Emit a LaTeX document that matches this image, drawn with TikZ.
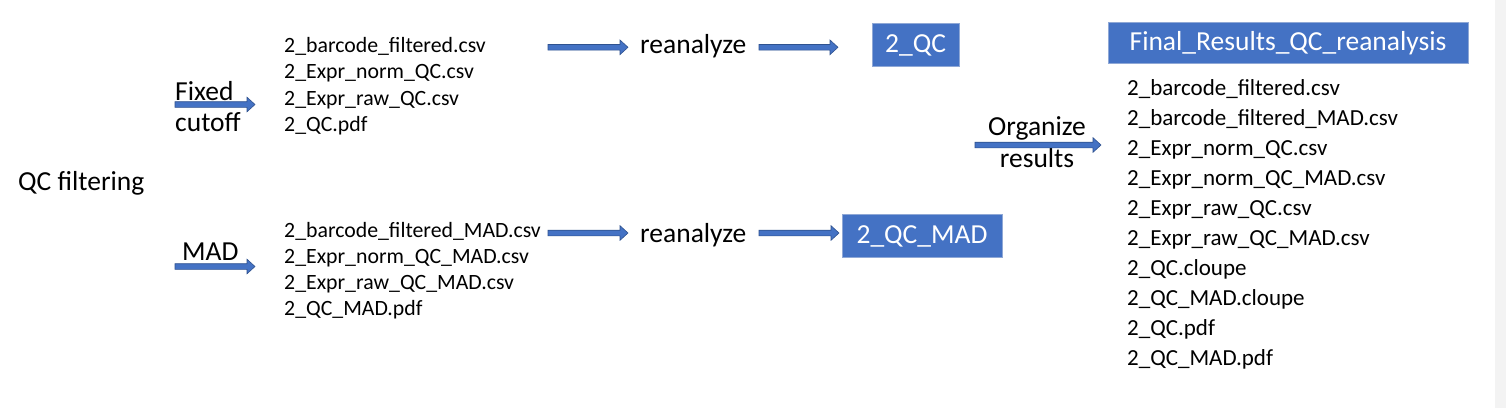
\documentclass[tikz,border=0pt]{standalone}
\usepackage{fontspec}
\setmainfont{Carlito}
\usetikzlibrary{calc}
\definecolor{boxblue}{HTML}{4472C4}
\definecolor{boxedge}{HTML}{8FA8D6}
\definecolor{arrowedge}{HTML}{2F528F}
\definecolor{bandgray}{HTML}{F3F3F3}
\tikzset{
  big/.style={font=\fontsize{27.5}{33}\selectfont, inner sep=0pt, anchor=base west},
  filelist/.style={font=\fontsize{21.8}{26.5}\selectfont, inner sep=0pt, anchor=base west, align=left},
  reslist/.style={font=\fontsize{23}{30}\selectfont, inner sep=0pt, anchor=base west, align=left},
  bluebox/.style={fill=boxblue, draw=boxedge, line width=0.9pt, text=white,
    font=\fontsize{27.5}{33}\selectfont, inner sep=0pt, text height=19pt, text depth=3pt},
  blockarrow/.style={fill=boxblue, draw=arrowedge, line width=0.6pt,
    to path={let \p1=(\tikztostart), \p2=(\tikztotarget) in
      (\x1,\y1-2.8pt) -- (\x2-8pt,\y1-2.8pt) -- (\x2-8pt,\y1-7.3pt) -- (\x2,\y1)
      -- (\x2-8pt,\y1+7.3pt) -- (\x2-8pt,\y1+2.8pt) -- (\x1,\y1+2.8pt) -- cycle}},
}
\begin{document}
\begin{tikzpicture}[x=1pt,y=-1pt]
\useasboundingbox (0,0) rectangle (1506,408);
\fill[white] (0,0) rectangle (1506,408);
\fill[bandgray] (1495,0) rectangle (1506,408);

% labels
\node[big] (qc) at (18,190) {QC filtering};
\node[big] (fixed) at (175,100) {Fixed};
\node[big] (cutoff) at (175,131) {cutoff};
\node[big] (mad) at (182,260) {MAD};

% file lists
\node[filelist] (f1) at (284,52) {2\_barcode\_filtered.csv};
\node[filelist] (f2) at (284,78.5) {2\_Expr\_norm\_QC.csv};
\node[filelist] (f3) at (284,105) {2\_Expr\_raw\_QC.csv};
\node[filelist] (f4) at (284,131.5) {2\_QC.pdf};

\node[filelist] (m1) at (284,237) {2\_barcode\_filtered\_MAD.csv};
\node[filelist] (m2) at (284,263.3) {2\_Expr\_norm\_QC\_MAD.csv};
\node[filelist] (m3) at (284,289.6) {2\_Expr\_raw\_QC\_MAD.csv};
\node[filelist] (m4) at (284,315.9) {2\_QC\_MAD.pdf};

% reanalyze
\node[big] (re1) at (640,53) {reanalyze};
\node[big] (re2) at (640,242) {reanalyze};

% boxes
\node[bluebox, minimum width=87pt, minimum height=43pt] (qcbox) at (915.5,44.5) {2\_QC};
\node[bluebox, minimum width=160pt, minimum height=43pt] (madbox) at (922,235.5) {2\_QC\_MAD};
\node[bluebox, minimum width=360pt, minimum height=41pt] (finalbox) at (1288,42.5) {Final\_Results\_QC\_reanalysis};

% organize
\node[big, anchor=base] (org) at (1037,135) {Organize};
\node[big, anchor=base] (res) at (1037,167) {results};

% result list
\node[reslist] (r1) at (1127,95) {2\_barcode\_filtered.csv};
\node[reslist] (r2) at (1127,125) {2\_barcode\_filtered\_MAD.csv};
\node[reslist] (r3) at (1127,155) {2\_Expr\_norm\_QC.csv};
\node[reslist] (r4) at (1127,185) {2\_Expr\_norm\_QC\_MAD.csv};
\node[reslist] (r5) at (1127,215) {2\_Expr\_raw\_QC.csv};
\node[reslist] (r6) at (1127,245) {2\_Expr\_raw\_QC\_MAD.csv};
\node[reslist] (r7) at (1127,275) {2\_QC.cloupe};
\node[reslist] (r8) at (1127,305) {2\_QC\_MAD.cloupe};
\node[reslist] (r9) at (1127,335) {2\_QC.pdf};
\node[reslist] (r10) at (1127,365) {2\_QC\_MAD.pdf};

% arrow end points
\coordinate (a1s) at (175,104.5); \coordinate (a1e) at (255,104.5);
\coordinate (a2s) at (175,266.5); \coordinate (a2e) at (255,266.5);
\coordinate (a3s) at (548,47.3); \coordinate (a3e) at (628,47.3);
\coordinate (a4s) at (759,47.3); \coordinate (a4e) at (838,47.3);
\coordinate (a5s) at (548,233); \coordinate (a5e) at (628,233);
\coordinate (a6s) at (759,233); \coordinate (a6e) at (839,233);
\coordinate (a7s) at (975,145); \coordinate (a7e) at (1101,145);

\path[blockarrow] (a1s) to (a1e);
\path[blockarrow] (a2s) to (a2e);
\path[blockarrow] (a3s) to (a3e);
\path[blockarrow] (a4s) to (a4e);
\path[blockarrow] (a5s) to (a5e);
\path[blockarrow] (a6s) to (a6e);
\path[blockarrow] (a7s) to (a7e);
\end{tikzpicture}
\end{document}
